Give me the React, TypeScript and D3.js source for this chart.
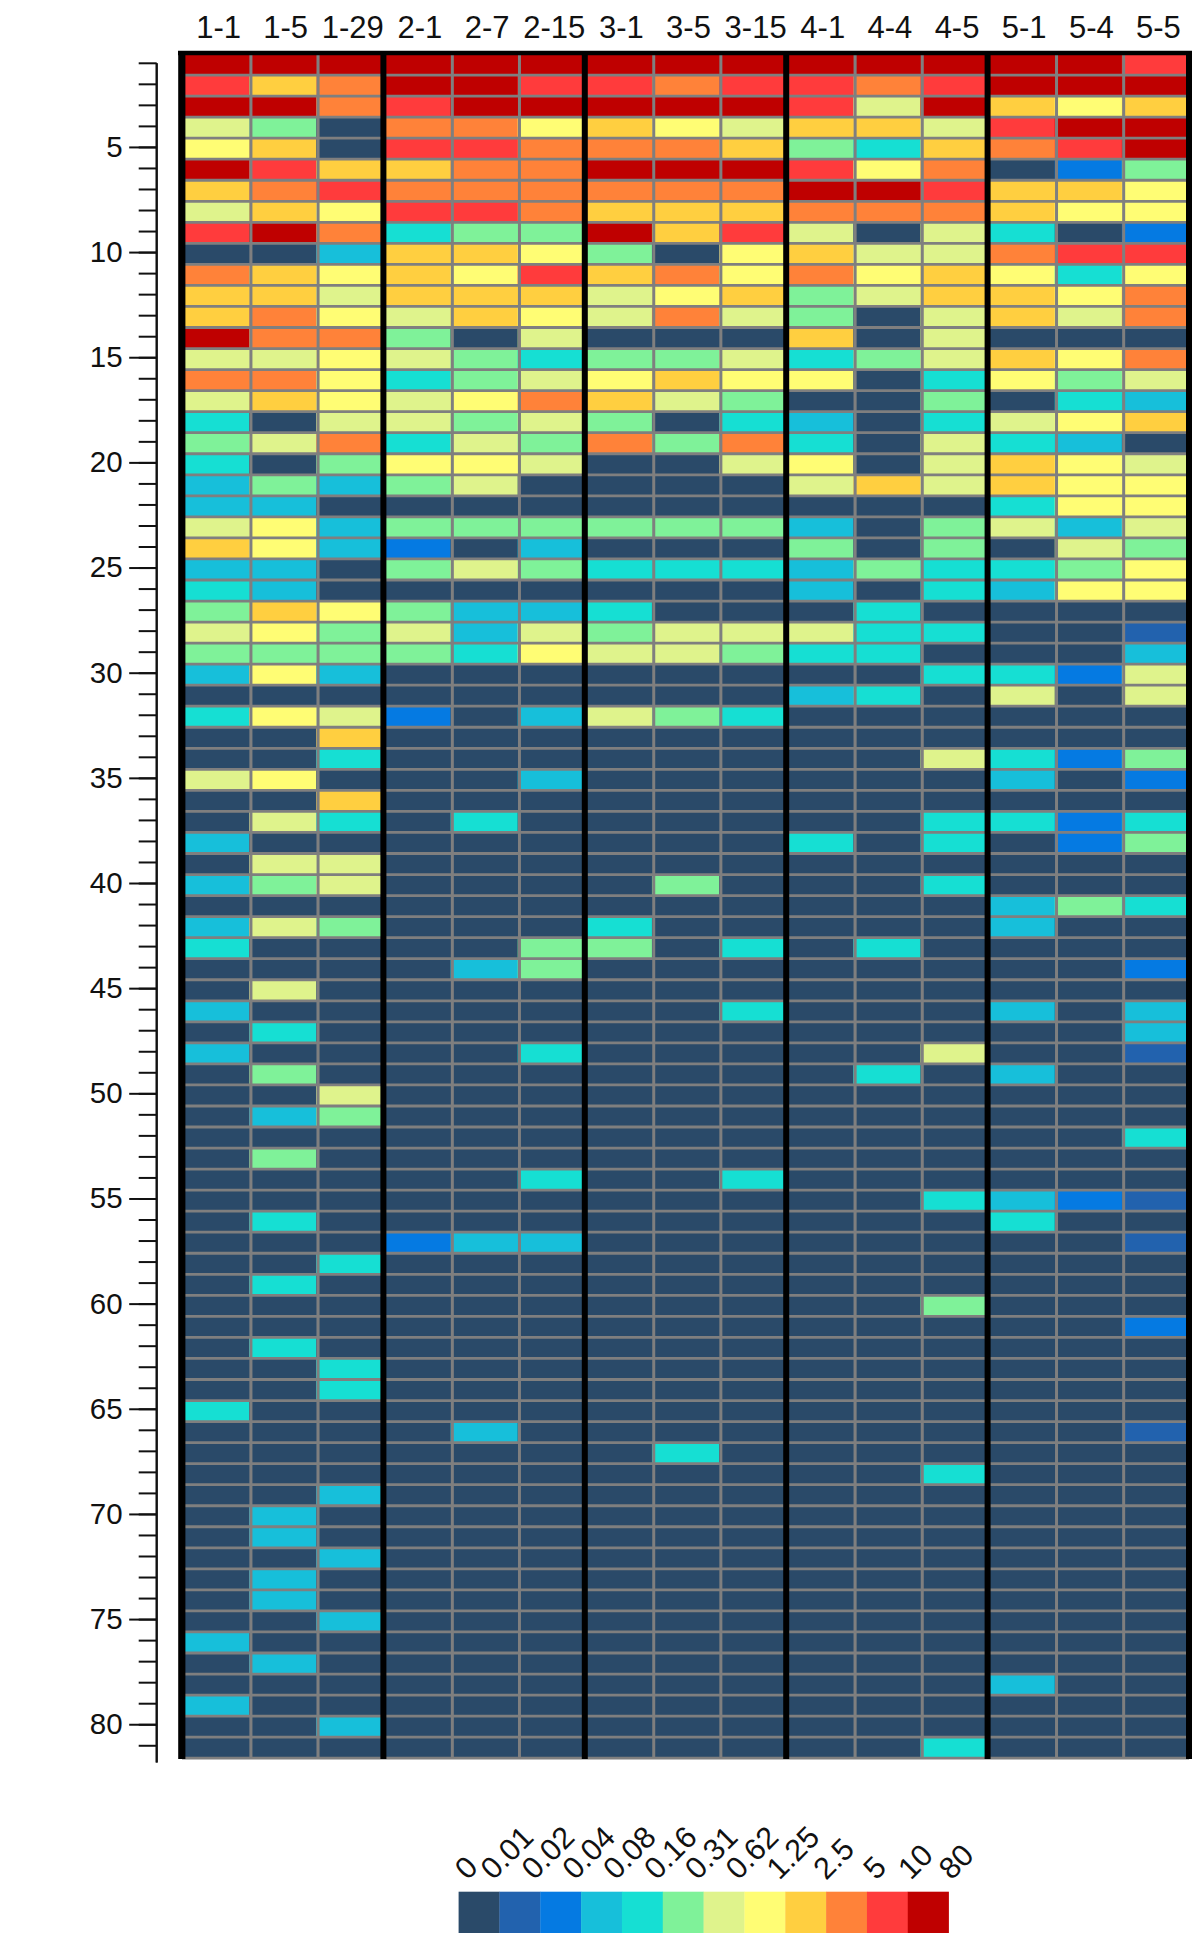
import { useEffect, useRef } from "react";
import * as d3 from "d3";

const WIDTH = 1200;
const HEIGHT = 1939;
const FONT = "'Liberation Sans', Arial, sans-serif";
const GRID = "#7f7f7f";

const columns = ["1-1", "1-5", "1-29", "2-1", "2-7", "2-15", "3-1", "3-5", "3-15", "4-1", "4-4", "4-5", "5-1", "5-4", "5-5"];
const legendLabels = ["0", "0.01", "0.02", "0.04", "0.08", "0.16", "0.31", "0.62", "1.25", "2.5", "5", "10", "80"];
const legendColors = ["#2a4a69", "#2262ae", "#057ae2", "#17bfda", "#16dfd3", "#7ff299", "#dff38c", "#fffd74", "#ffcf40", "#ff8239", "#ff3b3c", "#bf0000"];
const majorTicks = [5, 10, 15, 20, 25, 30, 35, 40, 45, 50, 55, 60, 65, 70, 75, 80];

// each value is the index of the legend bin, top row first
const c1_1 = [
  11, 10, 11, 6, 7, 11, 8, 6, 10, 0,
  9, 8, 8, 11, 6, 9, 6, 4, 5, 4,
  3, 3, 6, 8, 3, 4, 5, 6, 5, 3,
  0, 4, 0, 0, 6, 0, 0, 3, 0, 3,
  0, 3, 4, 0, 0, 3, 0, 3, 0, 0,
  0, 0, 0, 0, 0, 0, 0, 0, 0, 0,
  0, 0, 0, 0, 4, 0, 0, 0, 0, 0,
  0, 0, 0, 0, 0, 3, 0, 0, 3, 0,
  0,
];
const c1_5 = [
  11, 8, 11, 5, 8, 10, 9, 8, 11, 0,
  8, 8, 9, 9, 6, 9, 8, 0, 6, 0,
  5, 3, 7, 7, 3, 3, 8, 7, 5, 7,
  0, 7, 0, 0, 7, 0, 6, 0, 6, 5,
  0, 6, 0, 0, 6, 0, 4, 0, 5, 0,
  3, 0, 5, 0, 0, 4, 0, 0, 4, 0,
  0, 4, 0, 0, 0, 0, 0, 0, 0, 3,
  3, 0, 3, 3, 0, 0, 3, 0, 0, 0,
  0,
];
const c1_29 = [
  11, 9, 9, 0, 0, 8, 10, 7, 9, 3,
  7, 6, 7, 9, 7, 7, 7, 6, 9, 5,
  3, 0, 3, 3, 0, 0, 7, 5, 5, 3,
  0, 6, 8, 4, 0, 8, 4, 0, 6, 6,
  0, 5, 0, 0, 0, 0, 0, 0, 0, 6,
  5, 0, 0, 0, 0, 0, 0, 4, 0, 0,
  0, 0, 4, 4, 0, 0, 0, 0, 3, 0,
  0, 3, 0, 0, 3, 0, 0, 0, 0, 3,
  0,
];
const c2_1 = [
  11, 11, 10, 9, 10, 8, 9, 10, 4, 8,
  8, 8, 6, 5, 6, 4, 6, 6, 4, 7,
  5, 0, 5, 2, 5, 0, 5, 6, 5, 0,
  0, 2, 0, 0, 0, 0, 0, 0, 0, 0,
  0, 0, 0, 0, 0, 0, 0, 0, 0, 0,
  0, 0, 0, 0, 0, 0, 2, 0, 0, 0,
  0, 0, 0, 0, 0, 0, 0, 0, 0, 0,
  0, 0, 0, 0, 0, 0, 0, 0, 0, 0,
  0,
];
const c2_7 = [
  11, 11, 11, 9, 10, 9, 9, 10, 5, 8,
  7, 8, 8, 0, 5, 5, 7, 5, 6, 7,
  6, 0, 5, 0, 6, 0, 3, 3, 4, 0,
  0, 0, 0, 0, 0, 0, 4, 0, 0, 0,
  0, 0, 0, 3, 0, 0, 0, 0, 0, 0,
  0, 0, 0, 0, 0, 0, 3, 0, 0, 0,
  0, 0, 0, 0, 0, 3, 0, 0, 0, 0,
  0, 0, 0, 0, 0, 0, 0, 0, 0, 0,
  0,
];
const c2_15 = [
  11, 10, 11, 7, 9, 9, 9, 9, 5, 7,
  10, 8, 7, 6, 4, 6, 9, 6, 5, 6,
  0, 0, 5, 3, 5, 0, 3, 6, 7, 0,
  0, 3, 0, 0, 3, 0, 0, 0, 0, 0,
  0, 0, 5, 5, 0, 0, 0, 4, 0, 0,
  0, 0, 0, 4, 0, 0, 3, 0, 0, 0,
  0, 0, 0, 0, 0, 0, 0, 0, 0, 0,
  0, 0, 0, 0, 0, 0, 0, 0, 0, 0,
  0,
];
const c3_1 = [
  11, 10, 11, 8, 9, 11, 9, 8, 11, 5,
  8, 6, 6, 0, 5, 7, 8, 5, 9, 0,
  0, 0, 5, 0, 4, 0, 4, 5, 6, 0,
  0, 6, 0, 0, 0, 0, 0, 0, 0, 0,
  0, 4, 5, 0, 0, 0, 0, 0, 0, 0,
  0, 0, 0, 0, 0, 0, 0, 0, 0, 0,
  0, 0, 0, 0, 0, 0, 0, 0, 0, 0,
  0, 0, 0, 0, 0, 0, 0, 0, 0, 0,
  0,
];
const c3_5 = [
  11, 9, 11, 7, 9, 11, 9, 8, 8, 0,
  9, 7, 9, 0, 5, 8, 6, 0, 5, 0,
  0, 0, 5, 0, 4, 0, 0, 6, 6, 0,
  0, 5, 0, 0, 0, 0, 0, 0, 0, 5,
  0, 0, 0, 0, 0, 0, 0, 0, 0, 0,
  0, 0, 0, 0, 0, 0, 0, 0, 0, 0,
  0, 0, 0, 0, 0, 0, 4, 0, 0, 0,
  0, 0, 0, 0, 0, 0, 0, 0, 0, 0,
  0,
];
const c3_15 = [
  11, 10, 11, 6, 8, 11, 9, 8, 10, 7,
  7, 8, 6, 0, 6, 7, 5, 4, 9, 6,
  0, 0, 5, 0, 4, 0, 0, 6, 5, 0,
  0, 4, 0, 0, 0, 0, 0, 0, 0, 0,
  0, 0, 4, 0, 0, 4, 0, 0, 0, 0,
  0, 0, 0, 4, 0, 0, 0, 0, 0, 0,
  0, 0, 0, 0, 0, 0, 0, 0, 0, 0,
  0, 0, 0, 0, 0, 0, 0, 0, 0, 0,
  0,
];
const c4_1 = [
  11, 10, 10, 8, 5, 10, 11, 9, 6, 8,
  9, 5, 5, 8, 4, 7, 0, 3, 4, 7,
  6, 0, 3, 5, 3, 3, 0, 6, 4, 0,
  3, 0, 0, 0, 0, 0, 0, 4, 0, 0,
  0, 0, 0, 0, 0, 0, 0, 0, 0, 0,
  0, 0, 0, 0, 0, 0, 0, 0, 0, 0,
  0, 0, 0, 0, 0, 0, 0, 0, 0, 0,
  0, 0, 0, 0, 0, 0, 0, 0, 0, 0,
  0,
];
const c4_4 = [
  11, 9, 6, 8, 4, 7, 11, 9, 0, 6,
  7, 6, 0, 0, 5, 0, 0, 0, 0, 0,
  8, 0, 0, 0, 5, 0, 4, 4, 4, 0,
  4, 0, 0, 0, 0, 0, 0, 0, 0, 0,
  0, 0, 4, 0, 0, 0, 0, 0, 4, 0,
  0, 0, 0, 0, 0, 0, 0, 0, 0, 0,
  0, 0, 0, 0, 0, 0, 0, 0, 0, 0,
  0, 0, 0, 0, 0, 0, 0, 0, 0, 0,
  0,
];
const c4_5 = [
  11, 10, 11, 6, 8, 9, 10, 9, 6, 6,
  8, 8, 6, 6, 6, 4, 5, 4, 6, 6,
  6, 0, 5, 5, 4, 4, 0, 4, 0, 4,
  0, 0, 0, 6, 0, 0, 4, 4, 0, 4,
  0, 0, 0, 0, 0, 0, 0, 6, 0, 0,
  0, 0, 0, 0, 4, 0, 0, 0, 0, 5,
  0, 0, 0, 0, 0, 0, 0, 4, 0, 0,
  0, 0, 0, 0, 0, 0, 0, 0, 0, 0,
  4,
];
const c5_1 = [
  11, 11, 8, 10, 9, 0, 8, 8, 4, 9,
  7, 8, 8, 0, 8, 7, 0, 6, 4, 8,
  8, 4, 6, 0, 4, 3, 0, 0, 0, 4,
  6, 0, 0, 4, 3, 0, 4, 0, 0, 0,
  3, 3, 0, 0, 0, 3, 0, 0, 3, 0,
  0, 0, 0, 0, 3, 4, 0, 0, 0, 0,
  0, 0, 0, 0, 0, 0, 0, 0, 0, 0,
  0, 0, 0, 0, 0, 0, 0, 3, 0, 0,
  0,
];
const c5_4 = [
  11, 11, 7, 11, 10, 2, 8, 7, 0, 10,
  4, 7, 6, 0, 7, 5, 4, 7, 3, 7,
  7, 7, 3, 6, 5, 7, 0, 0, 0, 2,
  0, 0, 0, 2, 0, 0, 2, 2, 0, 0,
  5, 0, 0, 0, 0, 0, 0, 0, 0, 0,
  0, 0, 0, 0, 2, 0, 0, 0, 0, 0,
  0, 0, 0, 0, 0, 0, 0, 0, 0, 0,
  0, 0, 0, 0, 0, 0, 0, 0, 0, 0,
  0,
];
const c5_5 = [
  10, 11, 8, 11, 11, 5, 7, 7, 2, 10,
  7, 9, 9, 0, 9, 6, 3, 8, 0, 6,
  7, 7, 6, 5, 7, 7, 0, 1, 3, 6,
  6, 0, 0, 5, 2, 0, 4, 5, 0, 0,
  4, 0, 0, 2, 0, 3, 3, 1, 0, 0,
  0, 4, 0, 0, 1, 0, 1, 0, 0, 0,
  2, 0, 0, 0, 0, 1, 0, 0, 0, 0,
  0, 0, 0, 0, 0, 0, 0, 0, 0, 0,
  0,
];
const series = [c1_1, c1_5, c1_29, c2_1, c2_7, c2_15, c3_1, c3_5, c3_15, c4_1, c4_4, c4_5, c5_1, c5_4, c5_5];

const rows = d3.range(1, 82);
const allTicks = rows;

const xScale = d3.scaleBand<string>().domain(columns).range([182, 1189]);
const yScale = d3.scaleBand<number>().domain(rows).range([54, 1758.2]);
const axisScale = d3.scaleLinear().domain([1, 81.8]).range([63.3, 1762.6]);
const legendScale = d3.scaleLinear().domain([0, 12]).range([458.6, 948.6]);
const color = d3.scaleOrdinal<number, string>().domain(d3.range(12)).range(legendColors);

// the thick separators close each group of three
const isSeparator = (i: number) => (i + 1) % 3 === 0;

const labelWidth = (s: string) => s.length * 17 - (s.includes(".") ? 8.5 : 0);

export default function App() {
  const axisRef = useRef<SVGGElement>(null);

  useEffect(() => {
    if (!axisRef.current) return;
    const g = d3.select(axisRef.current);
    g.selectAll("*").remove();

    const minor = g.append("g").call(
      d3.axisLeft(axisScale).tickValues(allTicks).tickSize(18).tickSizeOuter(0).tickFormat(() => "").offset(0),
    );
    const major = g.append("g").call(
      d3.axisLeft(axisScale).tickValues(majorTicks).tickSize(27.5).tickSizeOuter(0).tickPadding(6.5).tickFormat(d3.format("d")).offset(0),
    );

    [minor, major].forEach((a) => {
      a.selectAll("path,line").attr("stroke", "#111").attr("stroke-width", 2);
      a.selectAll("text").attr("fill", "#111").attr("font-size", 29.5).attr("font-family", FONT);
    });
  }, []);

  const bandW = xScale.bandwidth();

  return (
    <svg
      width={WIDTH}
      height={HEIGHT}
      viewBox={`0 0 ${WIDTH} ${HEIGHT}`}
      style={{ position: "absolute", left: 0, top: 0, background: "#fff" }}
    >
      <g ref={axisRef} transform="translate(156.7,0)" />

      {columns.map((c) => (
        <text
          key={c}
          x={xScale(c)! + bandW / 2 + 3}
          y={38}
          textAnchor="middle"
          fontFamily={FONT}
          fontSize={31}
          fill="#111"
        >
          {c}
        </text>
      ))}

      {series.map((values, ci) =>
        values.map((v, ri) => (
          <rect
            key={`${ci}-${ri}`}
            x={xScale(columns[ci])}
            y={yScale(rows[ri])}
            width={bandW + 0.5}
            height={yScale.bandwidth() + 0.5}
            fill={color(v)}
          />
        )),
      )}

      {/* row lines */}
      {rows.map((r) => (
        <line
          key={r}
          x1={182}
          x2={1189}
          y1={yScale(r)! + yScale.bandwidth()}
          y2={yScale(r)! + yScale.bandwidth()}
          stroke={GRID}
          strokeWidth={2.8}
        />
      ))}

      {/* column lines */}
      {columns.map((c, i) =>
        isSeparator(i) ? null : (
          <line
            key={c}
            x1={xScale(c)! + bandW + 1.8}
            x2={xScale(c)! + bandW + 1.8}
            y1={54}
            y2={1758}
            stroke={GRID}
            strokeWidth={3}
          />
        ),
      )}

      {/* black frame and group separators */}
      <line x1={178} x2={1192} y1={53} y2={53} stroke="#000" strokeWidth={4.4} />
      <line x1={181.8} x2={181.8} y1={51} y2={1759} stroke="#000" strokeWidth={7.2} />
      {columns.map((c, i) =>
        isSeparator(i) ? (
          <line
            key={c}
            x1={xScale(c)! + bandW}
            x2={xScale(c)! + bandW}
            y1={51}
            y2={1759}
            stroke="#000"
            strokeWidth={6}
          />
        ) : null,
      )}

      {/* legend */}
      {legendColors.map((col, i) => (
        <rect
          key={col}
          x={legendScale(i)}
          y={1891.7}
          width={legendScale(1) - legendScale(0) + 0.3}
          height={41.3}
          fill={col}
        />
      ))}
      {legendLabels.map((s, i) => {
        const x = legendScale(i) + 15 - 0.354 * labelWidth(s);
        return (
          <text
            key={s}
            transform={`translate(${x},1881) rotate(-45)`}
            fontFamily={FONT}
            fontSize={30.5}
            fill="#111"
          >
            {s}
          </text>
        );
      })}
    </svg>
  );
}
